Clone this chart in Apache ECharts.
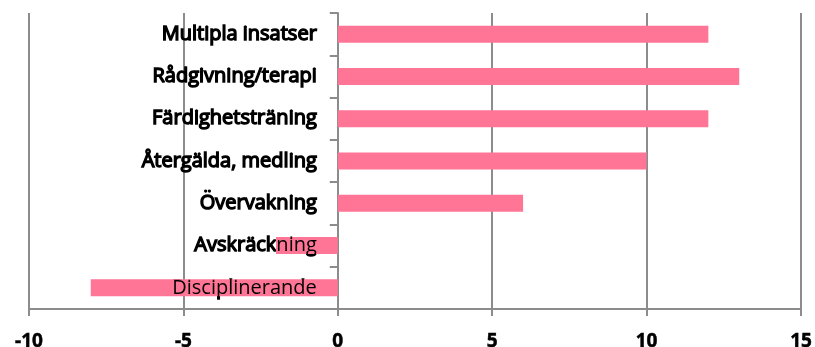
<!DOCTYPE html>
<html>
<head>
<meta charset="utf-8">
<script src="https://cdn.jsdelivr.net/npm/echarts@6/dist/echarts.min.js"></script>
<style>
  html, body { margin: 0; padding: 0; background: #fff; }
  #chart { width: 815px; height: 347px; }
</style>
</head>
<body>
<div id="chart"></div>
<script>
// Insatstyper, uppifrån och ned
const categories = [
  'Multipla insatser',
  'Rådgivning/terapi',
  'Färdighetsträning',
  'Återgälda, medling',
  'Övervakning',
  'Avskräckning',
  'Disciplinerande'
];
const values = [12, 13, 12, 10, 6, -2, -8];
const xMin = -10;
const xMax = 15;
const xStep = 5;

const FONT = '"Open Sans", Lato, sans-serif';
const GRID_GREY = '#8c8c8c';
const BAR_PINK = '#ff7596';
const GRID_LEFT = 29;

const chart = echarts.init(document.getElementById('chart'), null, { renderer: 'canvas' });

const labelBase = {
  fontFamily: FONT,
  fontSize: 20,
  fontWeight: 'normal',
  color: '#000',
  margin: 21
};

chart.setOption({
  animation: false,
  grid: {
    left: GRID_LEFT, right: 14, top: 13, bottom: 38,
    containLabel: false,
    outerBoundsMode: 'none'
  },
  xAxis: {
    type: 'value',
    min: xMin,
    max: xMax,
    interval: xStep,
    axisLine: { show: true, lineStyle: { color: GRID_GREY, width: 2 } },
    axisTick: { show: true, length: 7, lineStyle: { color: GRID_GREY, width: 2 } },
    splitLine: { show: true, lineStyle: { color: GRID_GREY, width: 2 } },
    axisLabel: {
      fontFamily: FONT,
      fontSize: 19,
      fontWeight: 'bold',
      color: '#000',
      textBorderColor: '#000',
      textBorderWidth: 0.5,
      margin: 23
    }
  },
  yAxis: [
    {
      // heavy labels, sitting beneath the bars
      type: 'category',
      data: categories,
      inverse: true,
      z: 0,
      axisLine: { show: true, onZero: false, lineStyle: { color: GRID_GREY, width: 2 } },
      axisTick: { show: true, length: 8, lineStyle: { color: GRID_GREY, width: 2 } },
      splitLine: { show: false },
      axisLabel: Object.assign({}, labelBase, {
        textBorderColor: '#000',
        textBorderWidth: 1.4
      })
    },
    {
      // plain copy drawn above the bars
      type: 'category',
      data: categories,
      inverse: true,
      position: 'left',
      z: 10,
      axisLine: { show: false, onZero: false },
      axisTick: { show: false },
      splitLine: { show: false },
      axisLabel: Object.assign({}, labelBase)
    }
  ],
  series: [
    {
      type: 'bar',
      data: values,
      yAxisIndex: 0,
      barWidth: 17,
      z: 2,
      itemStyle: { color: BAR_PINK }
    }
  ]
});

// shift the category axes (line, ticks and labels) onto x = 0
const zeroPx = chart.convertToPixel({ xAxisIndex: 0 }, 0);
const shift = -(zeroPx - GRID_LEFT);
chart.setOption({ yAxis: [{ offset: shift }, { offset: shift }] });
</script>
</body>
</html>
